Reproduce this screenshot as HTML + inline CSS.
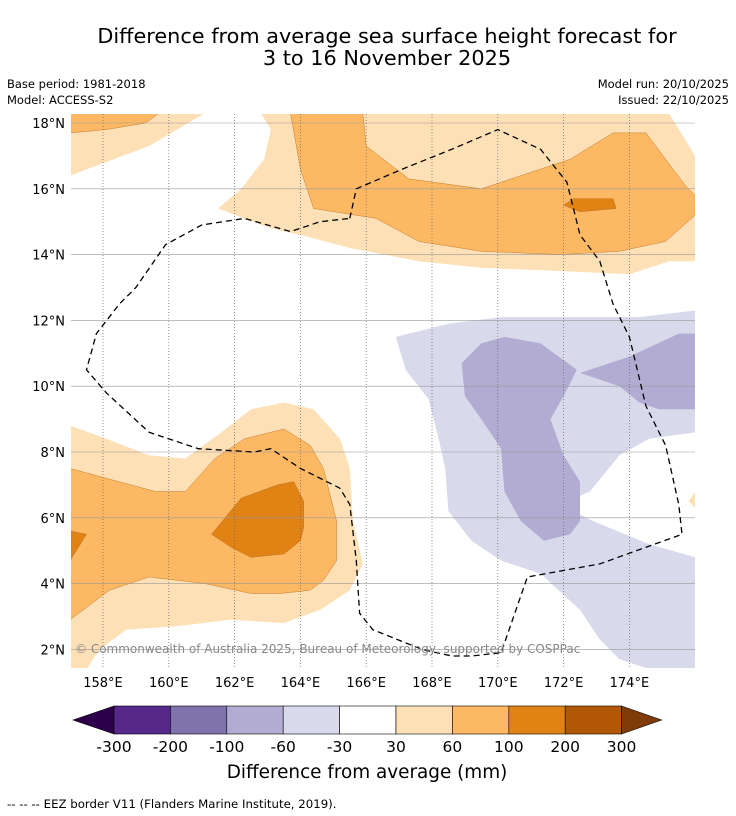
<!DOCTYPE html>
<html><head><meta charset="utf-8">
<style>
body{margin:0;width:736px;height:816px;background:#fff;font-family:"DejaVu Sans","Liberation Sans",sans-serif;overflow:hidden}
svg{display:block}
</style></head><body>
<svg id="chart" width="736" height="816" xmlns="http://www.w3.org/2000/svg">
<text x="387" y="43" text-anchor="middle" font-size="20.8">Difference from average sea surface height forecast for</text>
<text x="387" y="65" text-anchor="middle" font-size="20.8">3 to 16 November 2025</text>
<text x="7" y="88" font-size="11.5">Base period: 1981-2018</text>
<text x="7" y="104" font-size="11.5">Model: ACCESS-S2</text>
<text x="729" y="88" font-size="11.5" text-anchor="end">Model run: 20/10/2025</text>
<text x="729" y="104" font-size="11.5" text-anchor="end">Issued: 22/10/2025</text>
<defs><clipPath id="mapclip"><rect x="71" y="114" width="624" height="554"/></clipPath></defs>
<g id="map" clip-path="url(#mapclip)"></g>
<g id="grid"></g>
<g id="eez"></g>
<text x="75" y="653" font-size="12" fill="#888">© Commonwealth of Australia 2025, Bureau of Meteorology, supported by COSPPac</text>
<g id="axes"></g>
<g id="cbar"></g>
<text x="367" y="778" text-anchor="middle" font-size="18.4">Difference from average (mm)</text>
<text x="7" y="808" font-size="11.75">--  --  -- EEZ border V11 (Flanders Marine Institute, 2019).</text>
</svg>
<script>
const lonTicks=[158,160,162,164,166,168,170,172,174];
const latTicks=[2,4,6,8,10,12,14,16,18];
const levels=["-300","-200","-100","-60","-30","30","60","100","200","300"];
const levelColors=["#542788","#8073ac","#b2abd2","#d8daeb","#ffffff","#fee0b6","#fdb863","#e08214","#b35806"];
const lightOrangeTopLeft=[[157.0,18.3],[161.1,18.3],[159.4,17.3],[157.0,16.4]];
const orangeTopLeft=[[157.0,18.3],[159.7,18.3],[159.3,18.0],[158.1,17.8],[157.0,17.7]];
const lightOrangeTop=[[162.8,18.3],[175.2,18.3],[176.0,17.0],[176.0,13.8],[175.2,13.8],[174.0,13.4],[171.9,13.5],[169.5,13.6],[167.6,13.8],[165.5,14.2],[164.0,14.6],[163.1,14.8],[161.5,15.4],[162.2,16.0],[162.9,16.9],[163.1,17.8]];
const orangeTop=[[163.7,18.3],[165.9,18.3],[166.0,17.3],[167.3,16.3],[169.5,16.0],[170.7,16.4],[172.2,16.9],[173.5,17.7],[174.5,17.7],[175.7,16.1],[176.0,15.8],[176.0,15.2],[175.1,14.4],[173.7,14.1],[171.9,14.0],[169.5,14.1],[167.6,14.4],[166.3,15.1],[164.4,15.4],[164.0,16.6]];
const darkTop=[[172.0,15.5],[172.3,15.7],[173.5,15.7],[173.6,15.4],[172.5,15.3]];
const lightOrangeBL=[[157.0,8.8],[158.1,8.4],[159.4,7.9],[160.5,7.8],[161.6,8.6],[162.5,9.3],[163.5,9.5],[164.4,9.3],[165.2,8.4],[165.5,7.5],[165.6,5.9],[165.9,4.6],[165.5,3.8],[164.6,3.2],[163.5,2.8],[161.9,2.9],[160.2,2.7],[158.7,2.6],[157.9,2.0],[157.5,1.4],[157.0,1.4]];
const orangeBL=[[157.0,7.5],[158.1,7.2],[159.6,6.8],[160.5,6.8],[161.4,7.8],[162.3,8.4],[163.5,8.7],[164.3,8.2],[164.7,7.5],[165.1,5.9],[165.1,4.7],[164.7,4.1],[164.3,3.8],[163.4,3.7],[162.5,3.7],[161.1,4.0],[159.4,4.2],[158.2,3.8],[157.0,2.9]];
const darkBL=[[161.3,5.5],[162.2,6.6],[163.3,7.0],[163.8,7.1],[164.1,6.5],[164.1,5.7],[164.0,5.3],[163.5,4.9],[162.5,4.8],[161.9,5.1]];
const darkLeft=[[157.0,5.6],[157.5,5.5],[157.0,4.7]];
const lightOrangeRight=[[175.8,6.5],[176.0,6.8],[176.0,6.3]];
const lavender=[[166.9,11.5],[168.5,11.9],[170.1,12.1],[171.6,12.1],[174.3,12.1],[176.0,12.3],[176.0,8.6],[174.6,8.4],[173.7,7.9],[172.8,6.8],[171.9,6.4],[172.9,5.9],[174.6,5.2],[176.0,4.8],[176.0,1.4],[174.6,1.4],[173.7,1.7],[173.1,2.3],[172.5,3.2],[171.3,4.3],[170.1,4.7],[169.2,5.3],[168.5,6.2],[168.4,7.5],[168.2,8.4],[167.9,9.6],[167.2,10.5]];
const purple=[[168.9,10.7],[169.5,11.3],[170.2,11.5],[171.3,11.3],[172.4,10.5],[172.0,9.7],[171.6,9.0],[172.0,7.9],[172.5,7.1],[172.5,5.9],[172.2,5.5],[171.4,5.3],[170.7,5.9],[170.2,6.8],[170.1,8.1],[169.5,9.0],[169.0,9.7]];
const purpleRight=[[172.5,10.4],[174.0,10.9],[175.5,11.6],[176.0,11.6],[176.0,9.3],[174.9,9.3],[174.3,9.5],[173.7,10.0]];
const eezBorder=[[165.5,15.1],[165.7,16.0],[167.1,16.6],[168.6,17.2],[170.0,17.8],[171.3,17.2],[172.1,16.2],[172.5,14.6],[173.1,13.8],[173.5,12.5],[174.0,11.5],[174.5,9.4],[175.1,8.2],[175.5,6.4],[175.6,5.5],[173.1,4.6],[170.9,4.2],[170.1,1.9],[169.2,1.8],[168.6,1.8],[167.7,2.0],[166.2,2.6],[165.8,3.1],[165.7,4.7],[165.5,6.4],[165.2,6.9],[164.0,7.5],[163.1,8.1],[162.6,8.0],[160.9,8.1],[159.4,8.6],[158.1,9.8],[157.5,10.5],[157.8,11.6],[158.5,12.5],[159.0,13.0],[159.9,14.3],[161.0,14.9],[162.3,15.1],[163.7,14.7],[164.6,15.0],[165.5,15.1]];
const NS='http://www.w3.org/2000/svg';
const X=lon=>103+(lon-158)*32.9;
const Y=lat=>123+(18-lat)*32.9;
function mk(tag,parent,attrs){const e=document.createElementNS(NS,tag);for(const k in attrs)e.setAttribute(k,attrs[k]);parent.appendChild(e);return e;}
const pts=a=>a.map(p=>X(p[0]).toFixed(1)+','+Y(p[1]).toFixed(1)).join(' ');
const map=document.getElementById('map');
const shapes=[[lightOrangeTopLeft,5,'light-orange-top-left'],[orangeTopLeft,6,'orange-top-left'],[lightOrangeTop,5,'light-orange-north'],[orangeTop,6,'orange-north'],[darkTop,7,'dark-orange-north'],[lightOrangeBL,5,'light-orange-southwest'],[orangeBL,6,'orange-southwest'],[darkBL,7,'dark-orange-southwest'],[darkLeft,7,'dark-orange-west-edge'],[lightOrangeRight,5,'light-orange-east-edge'],[lavender,3,'lavender-southeast'],[purple,2,'purple-core'],[purpleRight,2,'purple-east']];
shapes.forEach(s=>{
 const e=mk('polygon',map,{points:pts(s[0]),fill:levelColors[s[1]],stroke:s[1]>=6?'#b06a20':'none','stroke-width':0.4});
 
 
});
const grid=document.getElementById('grid');
lonTicks.forEach(l=>{const e=mk('line',grid,{x1:X(l),x2:X(l),y1:114,y2:668,stroke:'#666','stroke-width':0.7,'stroke-dasharray':'1,2'});
 
 });
latTicks.forEach(l=>{const e=mk('line',grid,{x1:71,x2:695,y1:Y(l),y2:Y(l),stroke:'#999','stroke-width':0.6});
 
 });
const eez=document.getElementById('eez');
const ep=mk('polyline',eez,{points:pts(eezBorder),fill:'none',stroke:'#000','stroke-width':1.3,'stroke-dasharray':'6,4'});


const axes=document.getElementById('axes');
lonTicks.forEach(l=>{const t=mk('text',axes,{x:X(l),y:687,'text-anchor':'middle','font-size':13});t.textContent=l+'°E';
 
 });
latTicks.forEach(l=>{const t=mk('text',axes,{x:65,y:Y(l)+5,'text-anchor':'end','font-size':13});t.textContent=l+'°N';
 
 });
const cb=document.getElementById('cbar');
const cx0=114,cw=56.4,cy=706,ch=28;
const lt=mk('polygon',cb,{points:`73,${cy+ch/2} ${cx0},${cy} ${cx0},${cy+ch}`,fill:'#2d004b',stroke:'#000','stroke-width':0.6});


levelColors.forEach((c,i)=>{const r=mk('rect',cb,{x:cx0+i*cw,y:cy,width:cw,height:ch,fill:c,stroke:'#000','stroke-width':0.6});
 
 });
const xe=cx0+levelColors.length*cw;
const rt=mk('polygon',cb,{points:`${xe},${cy} ${xe+40},${cy+ch/2} ${xe},${cy+ch}`,fill:'#7f3b08',stroke:'#000','stroke-width':0.6});


levels.forEach((v,i)=>{const t=mk('text',cb,{x:cx0+i*cw,y:752,'text-anchor':'middle','font-size':15.5});t.textContent=v;
 
 });
</script>
</body></html>
